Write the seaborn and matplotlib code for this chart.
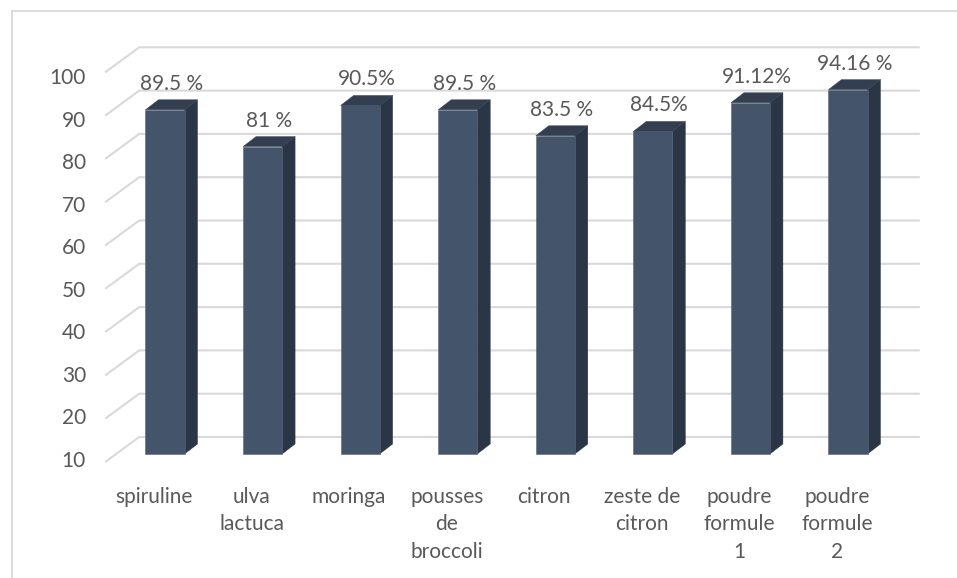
import matplotlib
matplotlib.use("Agg")
import matplotlib.pyplot as plt
from matplotlib.patches import Polygon
from matplotlib.lines import Line2D
import seaborn as sns
import pandas as pd

# ---- data -------------------------------------------------------------
categories = ["spiruline", "ulva\nlactuca", "moringa", "pousses\nde\nbroccoli",
              "citron", "zeste de\ncitron", "poudre\nformule\n1", "poudre\nformule\n2"]
values = [89.5, 81, 90.5, 89.5, 83.5, 84.5, 91.12, 94.16]
value_labels = ["89.5 %", "81 %", "90.5%", "89.5 %", "83.5 %", "84.5%", "91.12%", "94.16 %"]
y_ticks = [10, 20, 30, 40, 50, 60, 70, 80, 90, 100]
y_base = 10

# ---- style ------------------------------------------------------------
sns.set_theme(style="white")
plt.rcParams["font.family"] = ["Lato", "DejaVu Sans"]

FRONT = "#44546A"
SIDE = "#2A3545"
TOP = "#333F50"
GRID = "#D9D9D9"
TEXT = "#595959"
FS = 15

W, H, DPI = 957, 578, 100
fig = plt.figure(figsize=(W / DPI, H / DPI), dpi=DPI)
ax = fig.add_axes([0, 0, 1, 1])

# pixel geometry of the bar front plane
X0_PX, STEP_PX = 165.0, 97.57          # centre of first bar, category spacing
Y0_PX, UNIT_PX = 454.0, 4.33           # pixel row of y_base, pixels per unit


def px_x(dx):
    return dx / STEP_PX


def px_y(dy):
    return dy / UNIT_PX


def data_y_from_row(row):
    return y_base + (Y0_PX - row) / UNIT_PX


df = pd.DataFrame({"cat": categories, "val": values})
sns.barplot(data=df, x="cat", y="val", color=FRONT, saturation=1, width=0.40,
            edgecolor="#5A687C", linewidth=0.4, ax=ax, zorder=3)

n = len(categories)
ax.set_xlim(-X0_PX / STEP_PX, (W - X0_PX) / STEP_PX)
ax.set_ylim(data_y_from_row(H), data_y_from_row(0))
ax.axis("off")

# depth offsets (in data units) relative to the bar front plane
floor_dx, floor_dy = px_x(-11), px_y(-8)     # front edge of the floor
wall_dx, wall_dy = px_x(23), px_y(17)        # back wall
bar_dx, bar_dy = px_x(13), px_y(10)          # bar depth

# slanted gridlines: floor diagonal + back wall line
for v in y_ticks:
    xs = [-0.5 + floor_dx, -0.5 + wall_dx, n - 0.5 + wall_dx]
    ys = [v + floor_dy, v + wall_dy, v + wall_dy]
    ax.plot(xs, ys, color=GRID, lw=1.5, zorder=1, solid_capstyle="butt")

# bars: rebase on y_base, add side and top faces
for i, (bar, v) in enumerate(zip(ax.patches[:n], values)):
    bar.set_y(y_base)
    bar.set_height(v - y_base)
    x0 = bar.get_x()
    x1 = x0 + bar.get_width()
    side = Polygon([(x1, y_base), (x1 + bar_dx, y_base + bar_dy),
                    (x1 + bar_dx, v + bar_dy), (x1, v)],
                   closed=True, facecolor=SIDE, edgecolor=SIDE, lw=0.3, zorder=2.9)
    top = Polygon([(x0, v), (x0 + bar_dx, v + bar_dy),
                   (x1 + bar_dx, v + bar_dy), (x1, v)],
                  closed=True, facecolor=TOP, edgecolor=TOP, lw=0.3, zorder=3.1)
    ax.add_patch(side)
    ax.add_patch(top)
    ax.annotate(value_labels[i], (i, v), xytext=(6.5, 20),
                textcoords="offset pixels", ha="center", va="baseline",
                fontsize=FS, color=TEXT, zorder=5)

# value axis labels
for v in y_ticks:
    row = 460 - (v - y_base) * 4.256 + 7
    ax.text(px_x(86 - X0_PX), data_y_from_row(row), str(v), ha="right",
            va="baseline", fontsize=FS, color=TEXT)

# category labels, one text per line
for i, cat in enumerate(categories):
    for j, line in enumerate(cat.split("\n")):
        row = 503 + 27.5 * j
        ax.annotate(line, (i, data_y_from_row(row)), xytext=(-11, 0),
                    textcoords="offset pixels", ha="center", va="baseline",
                    fontsize=FS, color=TEXT)

# chart area outline (top and left edges)
fig.add_artist(Line2D([11.5 / W, 11.5 / W], [1 - 10.5 / H, 0],
                      transform=fig.transFigure, color=GRID, lw=1.3))
fig.add_artist(Line2D([11.5 / W, 1], [1 - 10.5 / H, 1 - 10.5 / H],
                      transform=fig.transFigure, color=GRID, lw=1.3))

fig.savefig("out.png", dpi=DPI)
